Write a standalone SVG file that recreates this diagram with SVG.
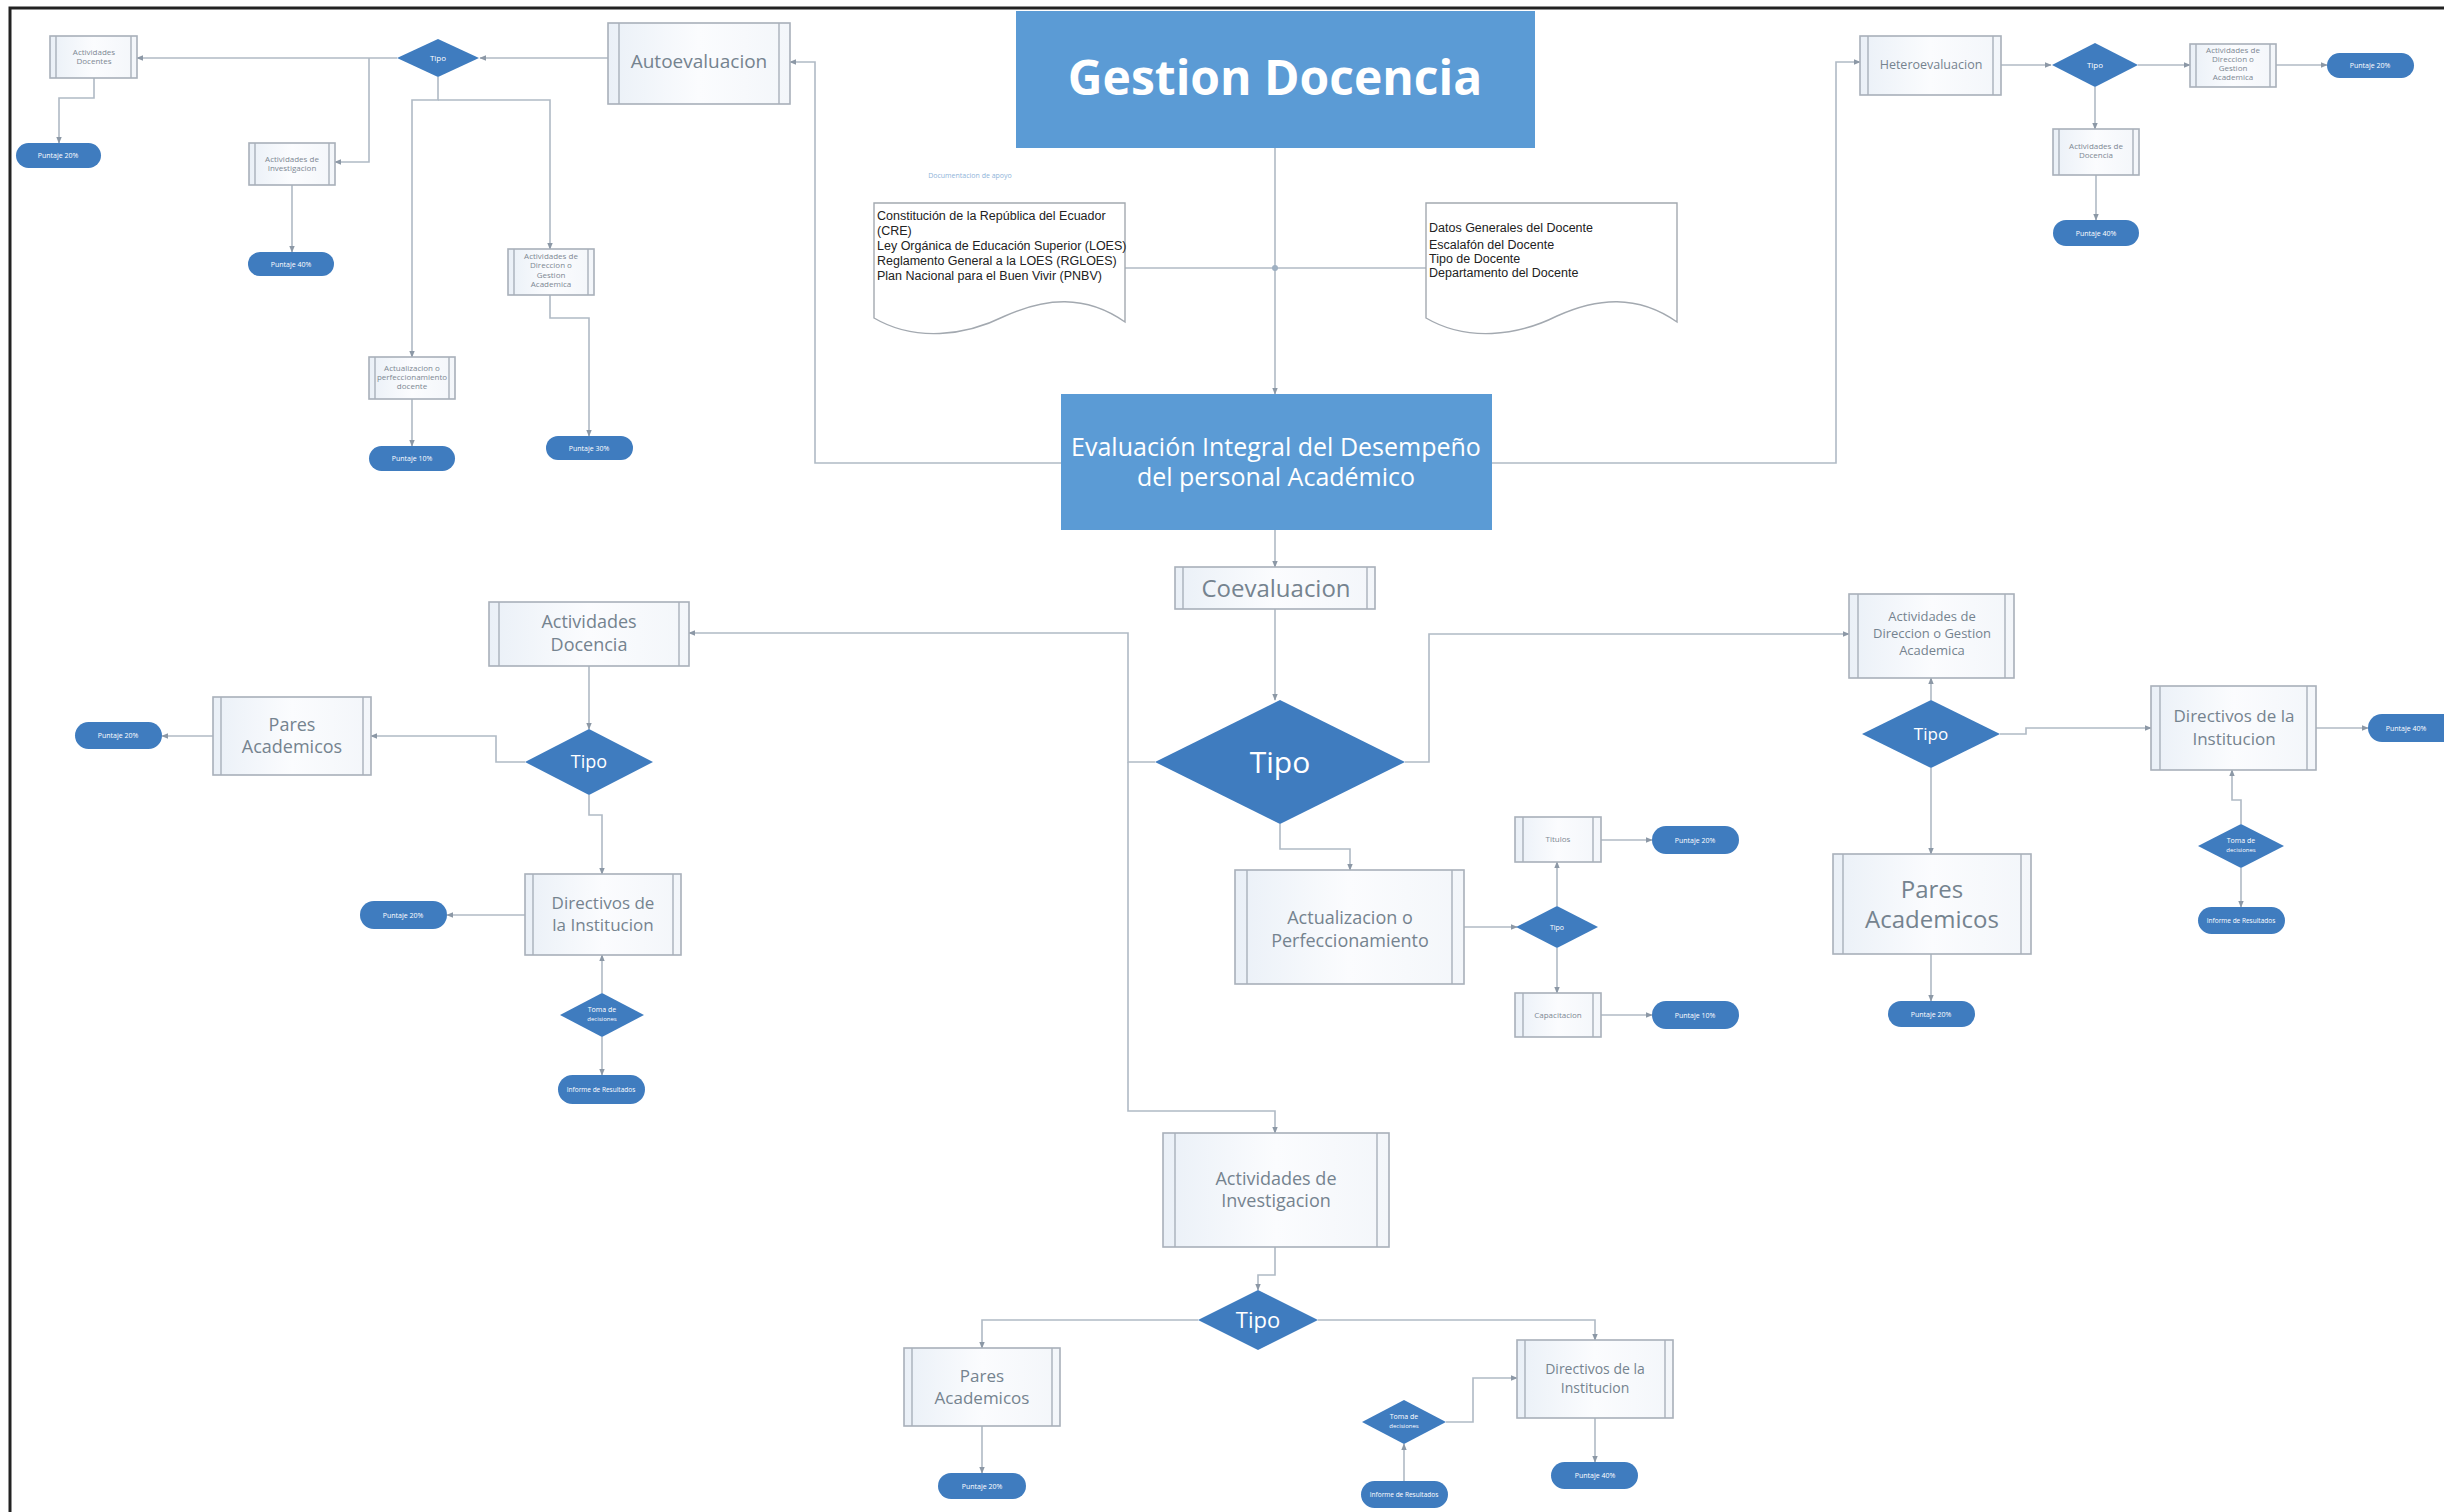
<svg xmlns="http://www.w3.org/2000/svg" width="2444" height="1512" viewBox="0 0 2444 1512">
  <defs>
    <linearGradient id="boxFill" x1="0" y1="0" x2="1" y2="0">
      <stop offset="0" stop-color="#eaf0f7"/>
      <stop offset="0.5" stop-color="#fbfcfe"/>
      <stop offset="1" stop-color="#f3f6fa"/>
    </linearGradient>
    <marker id="arrow" viewBox="0 0 10 10" refX="9" refY="5" markerWidth="7" markerHeight="7" orient="auto-start-reverse" markerUnits="userSpaceOnUse">
      <path d="M0,1 L10,5 L0,9 Z" fill="#8c98a6"/>
    </marker>
    <style>
      .frame { stroke: #222; stroke-width: 3; fill: none; }
      .blue { fill: #5b9bd5; }
      .dec { fill: #3f7cbf; }
      .term { fill: #3f7cbf; }
      .proc { fill: url(#boxFill); stroke: #a8b0ba; stroke-width: 1.6; }
      .bar { stroke: #a8b0ba; stroke-width: 1.4; }
      .doc { fill: #ffffff; stroke: #a3a9b0; stroke-width: 1.4; }
      .conn path { fill: none; stroke: #b0bac5; stroke-width: 1.6; marker-end: url(#arrow); }
      .conn .plain { marker-end: none; }
      text { font-family: "Open Sans", "Liberation Sans", sans-serif; text-anchor: middle; }
      .title { fill: #ffffff; font-weight: bold; font-size: 48px; }
      .main { fill: #ffffff; font-size: 25px; }
      .lbl { fill: #75838f; }
      .tiny { fill: #7d8893; font-size: 8px; }
      .wt { fill: #ffffff; }
      .docx { fill: #222; font-family: "Liberation Sans Narrow", "Liberation Sans", sans-serif; font-size: 12.5px; text-anchor: start; }
    </style>
  </defs>

  <rect x="0" y="0" width="2444" height="1512" fill="#ffffff"/>
  <path class="frame" d="M10 1512 V8 H2444"/>

  <!-- connectors -->
  <g id="connectors" class="conn">
    <path d="M1275 148 V394"/>
    <path class="plain" d="M1125 268 H1426"/>
    <path d="M1061 463 H815 V62 H790"/>
    <path d="M1492 463 H1836 V62 H1860"/>
    <path d="M608 58 H480"/>
    <path d="M397 58 H137"/>
    <path d="M369 58 V162 H335"/>
    <path d="M438 77 V100 H412 V357"/>
    <path d="M438 100 H550 V249"/>
    <path d="M94 78 V98 H59 V143"/>
    <path d="M292 185 V252"/>
    <path d="M412 399 V446"/>
    <path d="M550 295 V318 H589 V436"/>
    <path d="M2001 65 H2051"/>
    <path d="M2138 65 H2190"/>
    <path d="M2276 65 H2327"/>
    <path d="M2095 87 V129"/>
    <path d="M2096 175 V220"/>
    <path d="M1275 530 V567"/>
    <path d="M1275 609 V700"/>
    <path d="M1155 762 H1128 V633 H689"/>
    <path d="M1128 762 V1111 H1275 V1133"/>
    <path d="M1405 762 H1429 V634 H1849"/>
    <path d="M1280 824 V849 H1350 V870"/>
    <path d="M589 666 V729"/>
    <path d="M525 762 H496 V736 H371"/>
    <path d="M213 736 H162"/>
    <path d="M589 795 V815 H602 V874"/>
    <path d="M525 915 H447"/>
    <path d="M602 993 V955"/>
    <path d="M602 1037 V1075"/>
    <path d="M1464 927 H1517"/>
    <path d="M1557 906 V862"/>
    <path d="M1601 840 H1652"/>
    <path d="M1557 948 V993"/>
    <path d="M1601 1015 H1652"/>
    <path d="M1931 700 V678"/>
    <path d="M2000 734 H2026 V728 H2151"/>
    <path d="M2316 728 H2368"/>
    <path d="M2241 824 V800 H2232 V770"/>
    <path d="M2241 868 V907"/>
    <path d="M1931 768 V854"/>
    <path d="M1931 954 V1001"/>
    <path d="M1275 1247 V1275 H1258 V1290"/>
    <path d="M1198 1320 H982 V1348"/>
    <path d="M982 1426 V1473"/>
    <path d="M1318 1320 H1595 V1340"/>
    <path d="M1595 1418 V1462"/>
    <path d="M1446 1422 H1473 V1378 H1517"/>
    <path d="M1404 1481 V1444"/>
  </g>

  <!-- central spine -->
  <g id="gestion-docencia">
    <rect class="blue" x="1016" y="11" width="519" height="137"/>
    <text class="title" x="1275" y="95">Gestion Docencia</text>
  </g>

  <g id="documentos-label">
    <text x="970" y="178" fill="#8fb4d9" font-size="7">Documentacion de apoyo</text>
  </g>

  <g id="doc-normativa">
    <path class="doc" d="M874 203 H1125 V322 C1085 294 1045 298 1005 316 C965 336 915 342 874 318 Z"/>
    <text class="docx" x="877" y="220" font-size="10">Constitución de la República del Ecuador</text>
    <text class="docx" x="877" y="235">(CRE)</text>
    <text class="docx" x="877" y="250">Ley Orgánica de Educación Superior (LOES)</text>
    <text class="docx" x="877" y="265">Reglamento General a la LOES (RGLOES)</text>
    <text class="docx" x="877" y="280">Plan Nacional para el Buen Vivir (PNBV)</text>
  </g>

  <g id="doc-datos-docente">
    <path class="doc" d="M1426 203 H1677 V322 C1637 294 1597 298 1557 316 C1517 336 1467 342 1426 318 Z"/>
    <text class="docx" x="1429" y="232" font-size="9">Datos Generales del Docente</text>
    <text class="docx" x="1429" y="249">Escalafón del Docente</text>
    <text class="docx" x="1429" y="263">Tipo de Docente</text>
    <text class="docx" x="1429" y="277">Departamento del Docente</text>
  </g>

  <circle cx="1275" cy="268" r="3" fill="#9fb0c2"/>

  <g id="evaluacion-integral">
    <rect class="blue" x="1061" y="394" width="431" height="136"/>
    <text class="main" x="1276" y="456">Evaluación Integral del Desempeño</text>
    <text class="main" x="1276" y="486">del personal Académico</text>
  </g>

  <!-- Autoevaluacion branch -->
  <g id="autoevaluacion">
    <rect class="proc" x="608" y="23" width="182" height="81"/>
    <line class="bar" x1="619" y1="23" x2="619" y2="104"/>
    <line class="bar" x1="779" y1="23" x2="779" y2="104"/>
    <text class="lbl" x="699" y="68" font-size="19" font-family="Liberation Sans, sans-serif">Autoevaluacion</text>
  </g>

  <g id="auto-tipo">
    <polygon class="dec" points="438,39 479,58 438,77 397,58"/>
    <text class="wt" x="438" y="61" font-size="8">Tipo</text>
  </g>

  <g id="auto-docencia">
    <rect class="proc" x="50" y="36" width="87" height="42"/>
    <line class="bar" x1="56" y1="36" x2="56" y2="78"/>
    <line class="bar" x1="131" y1="36" x2="131" y2="78"/>
    <text class="tiny" x="94" y="55">Actividades</text>
    <text class="tiny" x="94" y="64">Docentes</text>
  </g>
  <g id="auto-docencia-puntaje">
    <rect class="term" x="16" y="143" width="85" height="25" rx="12.5"/>
    <text class="wt" x="58" y="158" font-size="7">Puntaje 20%</text>
  </g>

  <g id="auto-investigacion">
    <rect class="proc" x="249" y="143" width="86" height="42"/>
    <line class="bar" x1="255" y1="143" x2="255" y2="185"/>
    <line class="bar" x1="329" y1="143" x2="329" y2="185"/>
    <text class="tiny" x="292" y="162">Actividades de</text>
    <text class="tiny" x="292" y="171">Investigacion</text>
  </g>
  <g id="auto-investigacion-puntaje">
    <rect class="term" x="248" y="252" width="86" height="24" rx="12"/>
    <text class="wt" x="291" y="267" font-size="7">Puntaje 40%</text>
  </g>

  <g id="auto-actualizacion">
    <rect class="proc" x="369" y="357" width="86" height="42"/>
    <line class="bar" x1="375" y1="357" x2="375" y2="399"/>
    <line class="bar" x1="449" y1="357" x2="449" y2="399"/>
    <text class="tiny" x="412" y="371" font-size="7">Actualizacion o</text>
    <text class="tiny" x="412" y="380" font-size="7">perfeccionamiento</text>
    <text class="tiny" x="412" y="389" font-size="6">docente</text>
  </g>
  <g id="auto-actualizacion-puntaje">
    <rect class="term" x="369" y="446" width="86" height="25" rx="12.5"/>
    <text class="wt" x="412" y="461" font-size="7">Puntaje 10%</text>
  </g>

  <g id="auto-direccion">
    <rect class="proc" x="508" y="249" width="86" height="46"/>
    <line class="bar" x1="514" y1="249" x2="514" y2="295"/>
    <line class="bar" x1="588" y1="249" x2="588" y2="295"/>
    <text class="tiny" x="551" y="259" font-size="6.5">Actividades de</text>
    <text class="tiny" x="551" y="268" font-size="6.5">Direccion o</text>
    <text class="tiny" x="551" y="278" font-size="7.5">Gestion</text>
    <text class="tiny" x="551" y="287" font-size="6.5">Academica</text>
  </g>
  <g id="auto-direccion-puntaje">
    <rect class="term" x="546" y="436" width="87" height="24" rx="12"/>
    <text class="wt" x="589" y="451" font-size="7">Puntaje 30%</text>
  </g>

  <!-- Heteroevaluacion branch -->
  <g id="heteroevaluacion">
    <rect class="proc" x="1860" y="36" width="141" height="59"/>
    <line class="bar" x1="1868" y1="36" x2="1868" y2="95"/>
    <line class="bar" x1="1993" y1="36" x2="1993" y2="95"/>
    <text class="lbl" x="1931" y="69" font-size="12.5">Heteroevaluacion</text>
  </g>
  <g id="hetero-tipo">
    <polygon class="dec" points="2095,43 2138,65 2095,87 2052,65"/>
    <text class="wt" x="2095" y="68" font-size="8">Tipo</text>
  </g>
  <g id="hetero-direccion">
    <rect class="proc" x="2190" y="44" width="86" height="43"/>
    <line class="bar" x1="2196" y1="44" x2="2196" y2="87"/>
    <line class="bar" x1="2270" y1="44" x2="2270" y2="87"/>
    <text class="tiny" x="2233" y="53" font-size="6.5">Actividades de</text>
    <text class="tiny" x="2233" y="62" font-size="6.5">Direccion o</text>
    <text class="tiny" x="2233" y="71" font-size="6.5">Gestion</text>
    <text class="tiny" x="2233" y="80" font-size="6.5">Academica</text>
  </g>
  <g id="hetero-direccion-puntaje">
    <rect class="term" x="2327" y="53" width="87" height="25" rx="12.5"/>
    <text class="wt" x="2370" y="68" font-size="7">Puntaje 20%</text>
  </g>
  <g id="hetero-docencia">
    <rect class="proc" x="2053" y="129" width="86" height="46"/>
    <line class="bar" x1="2059" y1="129" x2="2059" y2="175"/>
    <line class="bar" x1="2133" y1="129" x2="2133" y2="175"/>
    <text class="tiny" x="2096" y="149" font-size="7">Actividades de</text>
    <text class="tiny" x="2096" y="158" font-size="7">Docencia</text>
  </g>
  <g id="hetero-docencia-puntaje">
    <rect class="term" x="2053" y="220" width="86" height="26" rx="13"/>
    <text class="wt" x="2096" y="236" font-size="7">Puntaje 40%</text>
  </g>

  <!-- Coevaluacion branch -->
  <g id="coevaluacion">
    <rect class="proc" x="1175" y="567" width="200" height="42"/>
    <line class="bar" x1="1183" y1="567" x2="1183" y2="609"/>
    <line class="bar" x1="1367" y1="567" x2="1367" y2="609"/>
    <text class="lbl" x="1276" y="597" font-size="24">Coevaluacion</text>
  </g>
  <g id="coevaluacion-tipo">
    <polygon class="dec" points="1280,700 1405,762 1280,824 1155,762"/>
    <text class="wt" x="1280" y="773" font-size="30">Tipo</text>
  </g>

  <g id="co-docencia">
    <rect class="proc" x="489" y="602" width="200" height="64"/>
    <line class="bar" x1="499" y1="602" x2="499" y2="666"/>
    <line class="bar" x1="679" y1="602" x2="679" y2="666"/>
    <text class="lbl" x="589" y="628" font-size="18">Actividades</text>
    <text class="lbl" x="589" y="651" font-size="18">Docencia</text>
  </g>
  <g id="co-docencia-tipo">
    <polygon class="dec" points="589,729 653,762 589,795 525,762"/>
    <text class="wt" x="589" y="768" font-size="18">Tipo</text>
  </g>
  <g id="co-docencia-pares">
    <rect class="proc" x="213" y="697" width="158" height="78"/>
    <line class="bar" x1="221" y1="697" x2="221" y2="775"/>
    <line class="bar" x1="363" y1="697" x2="363" y2="775"/>
    <text class="lbl" x="292" y="731" font-size="18">Pares</text>
    <text class="lbl" x="292" y="753" font-size="18">Academicos</text>
  </g>
  <g id="co-docencia-pares-puntaje">
    <rect class="term" x="75" y="722" width="87" height="27" rx="13.5"/>
    <text class="wt" x="118" y="738" font-size="7">Puntaje 20%</text>
  </g>
  <g id="co-docencia-directivos">
    <rect class="proc" x="525" y="874" width="156" height="81"/>
    <line class="bar" x1="533" y1="874" x2="533" y2="955"/>
    <line class="bar" x1="673" y1="874" x2="673" y2="955"/>
    <text class="lbl" x="603" y="909" font-size="17">Directivos de</text>
    <text class="lbl" x="603" y="931" font-size="17">la Institucion</text>
  </g>
  <g id="co-docencia-directivos-puntaje">
    <rect class="term" x="360" y="901" width="87" height="28" rx="14"/>
    <text class="wt" x="403" y="918" font-size="7">Puntaje 20%</text>
  </g>
  <g id="co-docencia-encuesta">
    <polygon class="dec" points="602,993 644,1015 602,1037 560,1015"/>
    <text class="wt" x="602" y="1012" font-size="7">Toma de</text>
    <text class="wt" x="602" y="1021" font-size="6">decisiones</text>
  </g>
  <g id="co-docencia-resultado">
    <rect class="term" x="558" y="1075" width="87" height="29" rx="14.5"/>
    <text class="wt" x="601" y="1092" font-size="6.5">Informe de Resultados</text>
  </g>

  <g id="co-actualizacion">
    <rect class="proc" x="1235" y="870" width="229" height="114"/>
    <line class="bar" x1="1247" y1="870" x2="1247" y2="984"/>
    <line class="bar" x1="1452" y1="870" x2="1452" y2="984"/>
    <text class="lbl" x="1350" y="924" font-size="18">Actualizacion o</text>
    <text class="lbl" x="1350" y="947" font-size="18">Perfeccionamiento</text>
  </g>
  <g id="co-actualizacion-tipo">
    <polygon class="dec" points="1557,906 1598,927 1557,948 1516,927"/>
    <text class="wt" x="1557" y="930" font-size="7">Tipo</text>
  </g>
  <g id="co-actualizacion-titulos">
    <rect class="proc" x="1515" y="817" width="86" height="45"/>
    <line class="bar" x1="1523" y1="817" x2="1523" y2="862"/>
    <line class="bar" x1="1593" y1="817" x2="1593" y2="862"/>
    <text class="tiny" x="1558" y="842" font-size="7">Titulos</text>
  </g>
  <g id="co-actualizacion-titulos-puntaje">
    <rect class="term" x="1652" y="826" width="87" height="28" rx="14"/>
    <text class="wt" x="1695" y="843" font-size="7">Puntaje 20%</text>
  </g>
  <g id="co-actualizacion-capacitacion">
    <rect class="proc" x="1515" y="993" width="86" height="44"/>
    <line class="bar" x1="1523" y1="993" x2="1523" y2="1037"/>
    <line class="bar" x1="1593" y1="993" x2="1593" y2="1037"/>
    <text class="tiny" x="1558" y="1018" font-size="7">Capacitacion</text>
  </g>
  <g id="co-actualizacion-capacitacion-puntaje">
    <rect class="term" x="1652" y="1001" width="87" height="28" rx="14"/>
    <text class="wt" x="1695" y="1018" font-size="7">Puntaje 10%</text>
  </g>

  <g id="co-direccion">
    <rect class="proc" x="1849" y="594" width="165" height="84"/>
    <line class="bar" x1="1858" y1="594" x2="1858" y2="678"/>
    <line class="bar" x1="2005" y1="594" x2="2005" y2="678"/>
    <text class="lbl" x="1932" y="621" font-size="13">Actividades de</text>
    <text class="lbl" x="1932" y="638" font-size="13">Direccion o Gestion</text>
    <text class="lbl" x="1932" y="655" font-size="13">Academica</text>
  </g>
  <g id="co-direccion-tipo">
    <polygon class="dec" points="1931,700 2000,734 1931,768 1862,734"/>
    <text class="wt" x="1931" y="740" font-size="17">Tipo</text>
  </g>
  <g id="co-direccion-directivos">
    <rect class="proc" x="2151" y="686" width="165" height="84"/>
    <line class="bar" x1="2160" y1="686" x2="2160" y2="770"/>
    <line class="bar" x1="2307" y1="686" x2="2307" y2="770"/>
    <text class="lbl" x="2234" y="722" font-size="17">Directivos de la</text>
    <text class="lbl" x="2234" y="745" font-size="17">Institucion</text>
  </g>
  <g id="co-direccion-directivos-puntaje">
    <rect class="term" x="2368" y="714" width="90" height="28" rx="14"/>
    <text class="wt" x="2406" y="731" font-size="7">Puntaje 40%</text>
  </g>
  <g id="co-direccion-encuesta">
    <polygon class="dec" points="2241,824 2284,846 2241,868 2198,846"/>
    <text class="wt" x="2241" y="843" font-size="7">Toma de</text>
    <text class="wt" x="2241" y="852" font-size="6">decisiones</text>
  </g>
  <g id="co-direccion-resultado">
    <rect class="term" x="2198" y="907" width="87" height="27" rx="13.5"/>
    <text class="wt" x="2241" y="923" font-size="6.5">Informe de Resultados</text>
  </g>
  <g id="co-direccion-pares">
    <rect class="proc" x="1833" y="854" width="198" height="100"/>
    <line class="bar" x1="1843" y1="854" x2="1843" y2="954"/>
    <line class="bar" x1="2021" y1="854" x2="2021" y2="954"/>
    <text class="lbl" x="1932" y="898" font-size="24">Pares</text>
    <text class="lbl" x="1932" y="928" font-size="24">Academicos</text>
  </g>
  <g id="co-direccion-pares-puntaje">
    <rect class="term" x="1888" y="1001" width="87" height="26" rx="13"/>
    <text class="wt" x="1931" y="1017" font-size="7">Puntaje 20%</text>
  </g>

  <g id="co-investigacion">
    <rect class="proc" x="1163" y="1133" width="226" height="114"/>
    <line class="bar" x1="1175" y1="1133" x2="1175" y2="1247"/>
    <line class="bar" x1="1377" y1="1133" x2="1377" y2="1247"/>
    <text class="lbl" x="1276" y="1185" font-size="18">Actividades de</text>
    <text class="lbl" x="1276" y="1207" font-size="18">Investigacion</text>
  </g>
  <g id="co-investigacion-tipo">
    <polygon class="dec" points="1258,1290 1318,1320 1258,1350 1198,1320"/>
    <text class="wt" x="1258" y="1328" font-size="22">Tipo</text>
  </g>
  <g id="co-investigacion-pares">
    <rect class="proc" x="904" y="1348" width="156" height="78"/>
    <line class="bar" x1="912" y1="1348" x2="912" y2="1426"/>
    <line class="bar" x1="1052" y1="1348" x2="1052" y2="1426"/>
    <text class="lbl" x="982" y="1382" font-size="17">Pares</text>
    <text class="lbl" x="982" y="1404" font-size="17">Academicos</text>
  </g>
  <g id="co-investigacion-pares-puntaje">
    <rect class="term" x="938" y="1473" width="88" height="26" rx="13"/>
    <text class="wt" x="982" y="1489" font-size="7">Puntaje 20%</text>
  </g>
  <g id="co-investigacion-directivos">
    <rect class="proc" x="1517" y="1340" width="156" height="78"/>
    <line class="bar" x1="1525" y1="1340" x2="1525" y2="1418"/>
    <line class="bar" x1="1665" y1="1340" x2="1665" y2="1418"/>
    <text class="lbl" x="1595" y="1374" font-size="14">Directivos de la</text>
    <text class="lbl" x="1595" y="1393" font-size="14">Institucion</text>
  </g>
  <g id="co-investigacion-directivos-puntaje">
    <rect class="term" x="1551" y="1462" width="87" height="27" rx="13.5"/>
    <text class="wt" x="1595" y="1478" font-size="7">Puntaje 40%</text>
  </g>
  <g id="co-investigacion-encuesta">
    <polygon class="dec" points="1404,1400 1446,1422 1404,1444 1362,1422"/>
    <text class="wt" x="1404" y="1419" font-size="7">Toma de</text>
    <text class="wt" x="1404" y="1428" font-size="6">decisiones</text>
  </g>
  <g id="co-investigacion-resultado">
    <rect class="term" x="1361" y="1481" width="87" height="27" rx="13.5"/>
    <text class="wt" x="1404" y="1497" font-size="6.5">Informe de Resultados</text>
  </g>
</svg>
